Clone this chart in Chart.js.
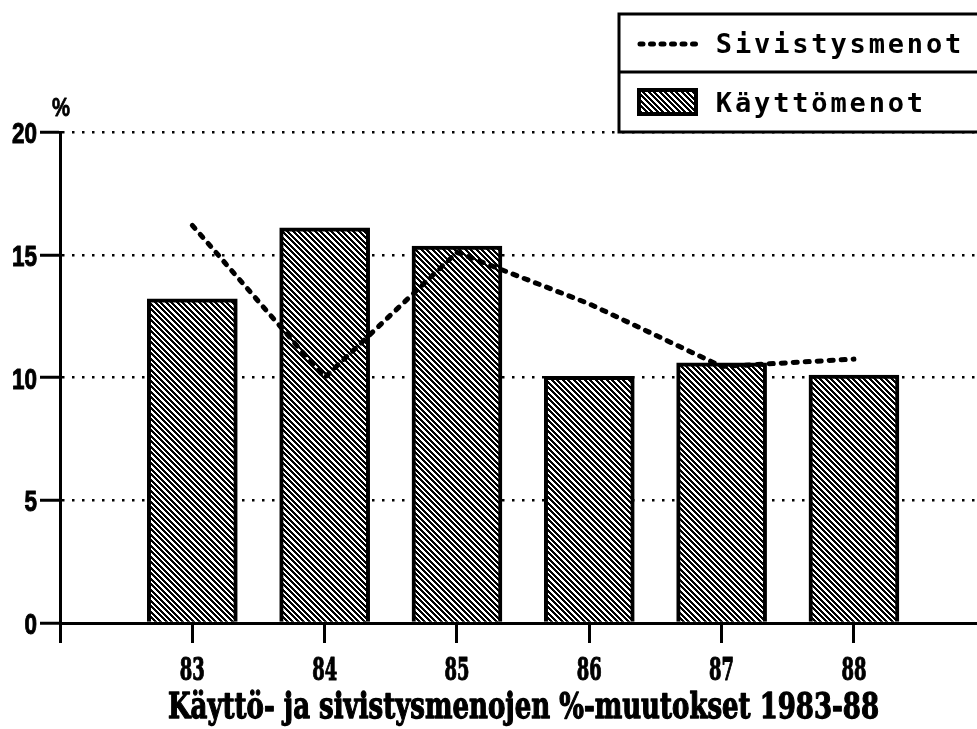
<!DOCTYPE html>
<html><head><meta charset="utf-8">
<script src="https://cdn.jsdelivr.net/npm/chart.js@4"></script>
<style>html,body{margin:0;padding:0;background:#fff}canvas{display:block}</style>
</head><body>
<canvas id="c" width="977" height="729"></canvas>
<script>
const years = [83, 84, 85, 86, 87, 88];
const tickLabels = ['83', '84', '85', '86', '87', '88'];
const kayttomenot = [13.2, 16.1, 15.35, 10.05, 10.6, 10.1];
const sivistysmenot = [16.2, 10.0, 15.1, 13.0, 10.45, 10.75];
const yTicks = [0, 5, 10, 15, 20];
const yTickLabels = ['0', '5', '10', '15', '20'];
const seriesNames = ['Sivistysmenot', 'Käyttömenot'];
const titleText = 'Käyttö- ja sivistysmenojen %-muutokset 1983-88';
const unitLabel = '%';

const canvas = document.getElementById('c');
const ctx = canvas.getContext('2d');

function makeHatch() {
  const s = 11;
  const c = document.createElement('canvas');
  c.width = s; c.height = s;
  const g = c.getContext('2d');
  const img = g.createImageData(s, s);
  for (let y = 0; y < s; y++) {
    for (let x = 0; x < s; x++) {
      const k = ((x - y) % s + s) % s;
      const v = (k % 5.5) < 3 ? 0 : 255;
      const p = (y * s + x) * 4;
      img.data[p] = v; img.data[p + 1] = v; img.data[p + 2] = v; img.data[p + 3] = 255;
    }
  }
  g.putImageData(img, 0, 0);
  return ctx.createPattern(c, 'repeat');
}
const hatch = makeHatch();

function drawScaled(c, text, x, y, font, align, scaleX, stroke) {
  c.save();
  c.font = font;
  c.textBaseline = 'alphabetic';
  c.textAlign = align;
  c.translate(x, y);
  c.scale(scaleX, 1);
  c.fillText(text, 0, 0);
  if (stroke) { c.lineWidth = stroke; c.strokeStyle = '#000'; c.lineJoin = 'round'; c.strokeText(text, 0, 0); }
  c.restore();
}
function fitScale(c, text, font, width) {
  c.save(); c.font = font; const w = c.measureText(text).width; c.restore();
  return width / w;
}

const textPlugin = {
  id: 'texts',
  afterDraw(chart) {
    const c = chart.ctx;
    const xs = chart.scales.x, ys = chart.scales.y;
    c.save();
    c.fillStyle = '#000';
    // y tick labels
    const yFont = 'bold 30px "Liberation Sans", Arial, sans-serif';
    const ySc = fitScale(c, '20', yFont, 25);
    yTicks.forEach((v, i) => {
      drawScaled(c, yTickLabels[i], 37, ys.getPixelForValue(v) + 11, yFont, 'right', ySc, 1);
    });
    // unit label
    const uFont = 'bold 26px "Liberation Sans", Arial, sans-serif';
    drawScaled(c, unitLabel, 61, 116, uFont, 'center', fitScale(c, unitLabel, uFont, 18), 0.8);
    // x tick labels
    const xFont = 'bold 32px "DejaVu Serif", "Liberation Serif", serif';
    const xSc = fitScale(c, '83', xFont, 25);
    years.forEach((v, i) => {
      drawScaled(c, tickLabels[i], xs.getPixelForValue(v), 680, xFont, 'center', xSc, 1.2);
    });
    // title
    const tFont = 'bold 35px "DejaVu Serif", "Liberation Serif", serif';
    drawScaled(c, titleText, 523.5, 718, tFont, 'center', fitScale(c, titleText, tFont, 711), 1.3);

    // legend box
    c.fillStyle = '#fff';
    c.fillRect(619, 14, 380, 118);
    c.strokeStyle = '#000';
    c.lineWidth = 3;
    c.strokeRect(619, 14, 380, 118);
    c.beginPath(); c.moveTo(619, 72); c.lineTo(990, 72); c.stroke();
    // row 1: dashed line sample
    const ds0 = chart.data.datasets[0], ds1 = chart.data.datasets[1];
    c.save();
    c.lineWidth = ds0.borderWidth; c.lineCap = 'round'; c.setLineDash([3, 7.5]);
    c.beginPath(); c.moveTo(640, 44); c.lineTo(696, 44); c.stroke();
    c.restore();
    // row 2: hatch swatch
    c.fillStyle = hatch;
    c.fillRect(637, 88, 61, 28);
    c.lineWidth = 4; c.strokeStyle = '#000';
    c.strokeRect(639, 90, 57, 24);
    // legend texts (monospaced, spaced)
    c.fillStyle = '#000';
    const lFont = 'bold 27px "DejaVu Sans Mono", "Liberation Mono", monospace';
    c.font = lFont; c.textAlign = 'center'; c.textBaseline = 'alphabetic';
    const rows = [[ds0.label, 53], [ds1.label, 112]];
    rows.forEach(([txt, base]) => {
      [...txt].forEach((ch, i) => c.fillText(ch, 724 + i * 19.1, base));
    });
    c.restore();
  }
};

new Chart(ctx, {
  type: 'bar',
  data: {
    datasets: [
      {
        type: 'line', label: seriesNames[0],
        data: years.map((x, i) => ({ x, y: sivistysmenot[i] })),
        borderColor: '#000', borderWidth: 5, borderDash: [4, 8], borderCapStyle: 'round',
        pointRadius: 0, tension: 0, fill: false, order: 0
      },
      {
        type: 'bar', label: seriesNames[1],
        data: years.map((x, i) => ({ x, y: kayttomenot[i] })),
        backgroundColor: hatch, borderColor: '#000', borderWidth: 4,
        barThickness: 90, order: 1
      }
    ]
  },
  options: {
    responsive: false, animation: false, devicePixelRatio: 1,
    layout: { padding: { top: 132, right: 0, left: 0, bottom: 0 } },
    plugins: { legend: { display: false }, tooltip: { enabled: false } },
    scales: {
      x: {
        type: 'linear', min: 82, max: 88.93, offset: false,
        afterBuildTicks: s => { s.ticks = [82, ...years].map(v => ({ value: v })); },
        afterFit: s => { s.height = 106; },
        ticks: { display: false },
        grid: { offset: false, drawOnChartArea: false, drawTicks: true, tickLength: 20, tickWidth: 3, tickColor: '#000', color: '#000' },
        border: { display: true, color: '#000', width: 3 }
      },
      y: {
        min: 0, max: 20,
        afterBuildTicks: s => { s.ticks = yTicks.map(v => ({ value: v })); },
        afterFit: s => { s.width = 60; },
        ticks: { display: false },
        grid: { color: '#000', lineWidth: 2.5, drawTicks: true, tickLength: 20, tickWidth: 3, tickColor: '#000', tickBorderDash: [] },
        border: { display: true, color: '#000', width: 3, dash: [2.5, 7.5] }
      }
    }
  },
  plugins: [textPlugin]
});
</script>
</body></html>
